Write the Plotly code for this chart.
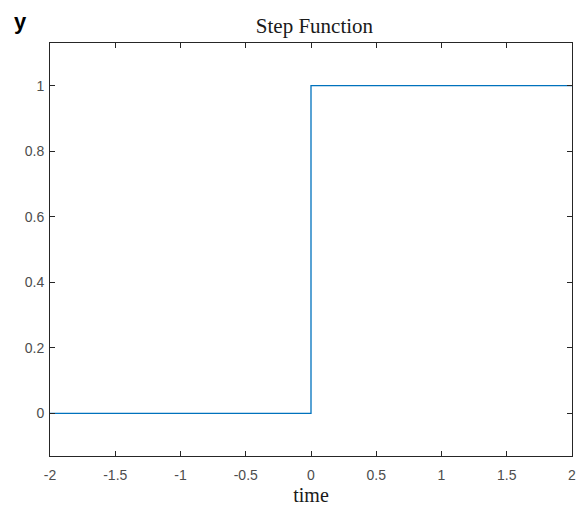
import plotly.graph_objects as go

time = [-2, 0, 0, 2]
y = [0, 0, 1, 1]
x_ticks = [-2, -1.5, -1, -0.5, 0, 0.5, 1, 1.5, 2]
x_tick_labels = ["-2", "-1.5", "-1", "-0.5", "0", "0.5", "1", "1.5", "2"]
y_ticks = [0, 0.2, 0.4, 0.6, 0.8, 1]
y_tick_labels = ["0", "0.2", "0.4", "0.6", "0.8", "1"]

fig = go.Figure()
fig.add_trace(go.Scatter(x=time, y=y, mode="lines",
                         line=dict(color="#0072BD", width=1.3),
                         showlegend=False))

axis_common = dict(showline=True, linecolor="#262626", linewidth=1, mirror="ticks",
                   ticks="inside", ticklen=5, tickcolor="#262626", tickwidth=1,
                   showgrid=False, zeroline=False, automargin=False,
                   ticklabeloverflow="allow",
                   tickfont=dict(family="Arial, Liberation Sans", size=14, color="#4d4d4d"))

fig.update_xaxes(range=[-2, 2], tickvals=x_ticks, ticktext=x_tick_labels,
                 ticklabelstandoff=6,
                 title=dict(text="time", font=dict(family="Liberation Serif, Times New Roman", size=20, color="#1a1a1a"), standoff=6),
                 **axis_common)
fig.update_yaxes(range=[-0.13, 1.13], tickvals=y_ticks, ticktext=y_tick_labels,
                 ticklabelstandoff=2,
                 **axis_common)

fig.update_layout(
    width=576, height=506,
    margin=dict(l=50, r=4, t=43, b=50, autoexpand=False),
    paper_bgcolor="white", plot_bgcolor="white",
    title=dict(text="Step Function", x=0.546, xanchor="center", y=0.949, yanchor="middle",
               font=dict(family="Liberation Serif, Times New Roman", size=21, color="#1a1a1a")),
    annotations=[dict(text="<b>y</b>", xref="paper", yref="paper", x=-0.073, y=1.053,
                      xanchor="left", yanchor="middle", showarrow=False,
                      font=dict(family="Liberation Sans, Arial", size=22, color="black"))],
)

fig.write_html("out.html", config={"displayModeBar": False},
               post_script="document.body.style.margin='0';document.body.style.overflow='hidden';")
